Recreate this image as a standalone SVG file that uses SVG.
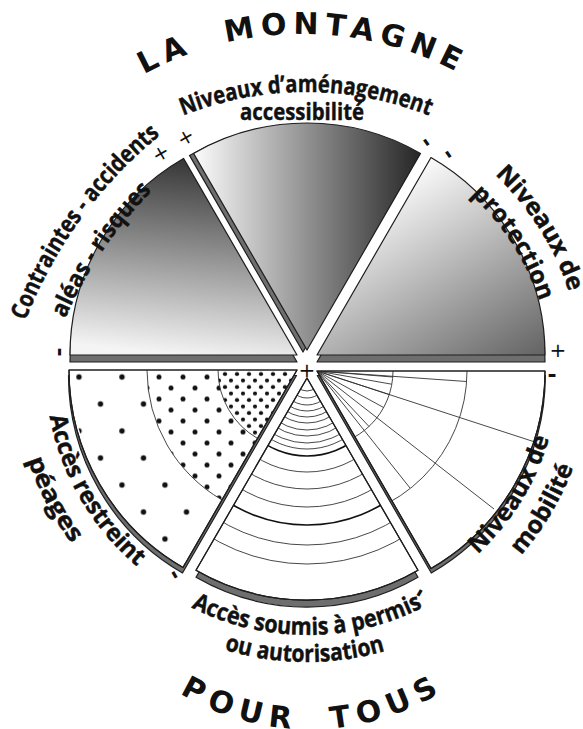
<svg xmlns="http://www.w3.org/2000/svg" width="583" height="729" viewBox="0 0 583 729">
<defs>
<style>
.sec{stroke:#1e1e1e;stroke-width:1.2;stroke-linejoin:round}
.band{fill:#6e6e6e;stroke:#1e1e1e;stroke-width:1.2;stroke-linejoin:round}
.lbl{font-family:"Open Sans","Liberation Sans",sans-serif;font-weight:700;font-size:24px;fill:#111;stroke:#111;stroke-width:0.45}
.ttl{font-family:"DejaVu Sans","Liberation Sans",sans-serif;font-weight:700;font-size:30px;fill:#111}
.sgn{font-family:"DejaVu Sans","Liberation Sans",sans-serif;font-size:20px;fill:#111;text-anchor:middle}
.sgb{font-family:"DejaVu Sans","Liberation Sans",sans-serif;font-weight:700;font-size:22px;fill:#111;text-anchor:middle}
.arc{fill:none;stroke:#333;stroke-width:0.9}
.arcb{fill:none;stroke:#111;stroke-width:1.6}
.ln{stroke:#333;stroke-width:0.9}
</style>
<linearGradient id="gUL" gradientUnits="userSpaceOnUse" x1="200" y1="165" x2="180" y2="355">
<stop offset="0" stop-color="#3a3a3a"/><stop offset="1" stop-color="#f4f4f4"/></linearGradient>
<linearGradient id="gUM" gradientUnits="userSpaceOnUse" x1="200" y1="0" x2="420" y2="0">
<stop offset="0" stop-color="#f6f6f6"/><stop offset="1" stop-color="#262626"/></linearGradient>
<linearGradient id="gUR" gradientUnits="userSpaceOnUse" x1="420" y1="165" x2="545" y2="370">
<stop offset="0" stop-color="#fbfbfb"/><stop offset="1" stop-color="#5a5a5a"/></linearGradient>
<pattern id="dotO" patternUnits="userSpaceOnUse" x="68.25" y="363.5" width="43" height="54">
<circle cx="10.75" cy="13.5" r="2.7" fill="#111"/><circle cx="32.25" cy="40.5" r="2.7" fill="#111"/></pattern>
<pattern id="dotM" patternUnits="userSpaceOnUse" x="153" y="371.5" width="24" height="22">
<circle cx="6" cy="5.5" r="2.5" fill="#111"/><circle cx="18" cy="16.5" r="2.5" fill="#111"/></pattern>
<pattern id="dotI" patternUnits="userSpaceOnUse" x="222" y="370.75" width="12" height="13">
<circle cx="3" cy="3.25" r="2.1" fill="#111"/><circle cx="9" cy="9.75" r="2.1" fill="#111"/></pattern>
<path id="sBM" d="M307,378 L196,570.3 A222,222 0 0 0 418,570.3 Z"/>
<path id="sBR" d="M317,371 L545,371 A228,228 0 0 1 431,568.5 Z"/>
<clipPath id="cBM"><use href="#sBM"/></clipPath>
<clipPath id="cBR"><use href="#sBR"/></clipPath>
<path id="tTitle" d="M15.8,199.5 A331,331 0 0 1 589.2,199.5"/>
<path id="tPour" d="M93,604.4 A250,250 0 0 0 526,604.4"/>
<path id="tNiv" d="M51.7,210.6 A332,332 0 0 1 560.3,210.6"/>
<path id="tCon" d="M-1.5,434.5 A444,444 0 0 1 260.1,73.9"/>
<path id="tAle" d="M33.1,450.1 A408,408 0 0 1 262.5,112.7"/>
<path id="tNp1" d="M431.5,129.4 A283,283 0 0 1 582.8,368.6"/>
<path id="tNp2" d="M415.7,155.9 A252,252 0 0 1 551.7,367.7"/>
<path id="tAr1" d="M45,368.9 A260,260 0 0 0 175.8,593.7"/>
<path id="tAr2" d="M13.3,355.8 A292,292 0 0 0 148.6,614.6"/>
<path id="tNm1" d="M425.8,591.4 A254,254 0 0 0 558.9,375.1"/>
<path id="tNm2" d="M445.4,617.1 A286,286 0 0 0 591,371"/>
<path id="tAs1" d="M83.6,506 A258,258 0 0 0 530.4,506"/>
<path id="tAs2" d="M60.2,519.5 A285,285 0 0 0 553.8,519.5"/>
</defs>
<rect width="583" height="729" fill="#fff"/>

<g id="title-top"><text class="ttl" text-anchor="middle" letter-spacing="6.3"><textPath href="#tTitle" startOffset="50%">LA <tspan dx="16.7">MONTAGNE</tspan></textPath></text></g>
<g id="title-bottom"><text class="ttl" text-anchor="middle" letter-spacing="7.5"><textPath href="#tPour" startOffset="50.7%">POUR <tspan dx="15">TOUS</tspan></textPath></text></g>

<g id="contraintes">
<path class="band" d="M297,362 L70,362 A227,227 0 0 1 183.5,165.4 Z"/>
<path class="sec" fill="url(#gUL)" d="M297,355 L70,355 A227,227 0 0 1 183.5,158.4 Z"/>
<text class="lbl" text-anchor="middle"><textPath href="#tCon" startOffset="50%" textLength="232" lengthAdjust="spacingAndGlyphs">Contraintes - accidents</textPath></text>
<text class="lbl" text-anchor="middle"><textPath href="#tAle" startOffset="50%" textLength="155" lengthAdjust="spacingAndGlyphs">aléas - risques</textPath></text>
</g>

<g id="amenagement">
<path class="band" d="M303,352 L189.5,155.4 A227,227 0 0 1 416.5,155.4 Z"/>
<path class="sec" fill="url(#gUM)" d="M307,350 L193.5,153.4 A227,227 0 0 1 420.5,153.4 Z"/>
<text class="lbl" text-anchor="middle"><textPath href="#tNiv" startOffset="50%" textLength="252" lengthAdjust="spacingAndGlyphs">Niveaux d’aménagement</textPath></text>
<text class="lbl" x="302" y="120" text-anchor="middle" textLength="124" lengthAdjust="spacingAndGlyphs">accessibilité</text>
</g>

<g id="protection">
<path class="band" d="M317,362 L431,164.5 A228,228 0 0 1 545,362 Z"/>
<path class="sec" fill="url(#gUR)" d="M317,355 L431,157.5 A228,228 0 0 1 545,355 Z"/>
<text class="lbl" text-anchor="middle"><textPath href="#tNp1" startOffset="50%" textLength="140" lengthAdjust="spacingAndGlyphs">Niveaux de</textPath></text>
<text class="lbl" text-anchor="middle"><textPath href="#tNp2" startOffset="50%" textLength="128" lengthAdjust="spacingAndGlyphs">protection</textPath></text>
</g>

<g id="acces-restreint">
<path class="band" d="M296.5,375.5 L68.5,375.5 A228,228 0 0 0 182.5,573 Z"/>
<path class="sec" fill="#fff" d="M297,370 L69,370 A228,228 0 0 0 183,567.5 Z"/>
<path fill="url(#dotI)" d="M297,370 L218,370 A79,79 0 0 0 257.5,438.4 Z"/>
<path fill="url(#dotM)" d="M218,370 L147,370 A150,150 0 0 0 222,499.9 L257.5,438.4 A79,79 0 0 1 218,370 Z"/>
<path fill="url(#dotO)" d="M147,370 L71,370 A226,226 0 0 0 184,565.7 L222,499.9 A150,150 0 0 1 147,370 Z"/>
<path class="arc" d="M218,370 A79,79 0 0 0 257.5,438.4"/>
<path class="arc" d="M147,370 A150,150 0 0 0 222,499.9"/>
<path class="sec" fill="none" d="M297,370 L69,370 A228,228 0 0 0 183,567.5 Z"/>
<text class="lbl" text-anchor="middle"><textPath href="#tAr1" startOffset="50%" textLength="177" lengthAdjust="spacingAndGlyphs">Accès restreint</textPath></text>
<text class="lbl" text-anchor="middle"><textPath href="#tAr2" startOffset="50%" textLength="95" lengthAdjust="spacingAndGlyphs">péages</textPath></text>
</g>

<g id="acces-soumis">
<path class="band" d="M307,385 L196,577.3 A222,222 0 0 0 418,577.3 Z"/>
<use href="#sBM" class="sec" fill="#fff"/>
<g clip-path="url(#cBM)">
<circle class="arc" cx="307" cy="378" r="13"/><circle class="arc" cx="307" cy="378" r="20"/>
<circle class="arc" cx="307" cy="378" r="27"/><circle class="arc" cx="307" cy="378" r="33"/>
<circle class="arc" cx="307" cy="378" r="39"/><circle class="arc" cx="307" cy="378" r="45"/>
<circle class="arc" cx="307" cy="378" r="52"/><circle class="arc" cx="307" cy="378" r="58"/>
<circle class="arc" cx="307" cy="378" r="65"/><circle class="arc" cx="307" cy="378" r="71"/>
<circle class="arcb" cx="307" cy="378" r="78"/>
<circle class="arc" cx="307" cy="378" r="94"/><circle class="arc" cx="307" cy="378" r="111"/>
<circle class="arc" cx="307" cy="378" r="129"/><circle class="arcb" cx="307" cy="378" r="147"/>
<circle class="arc" cx="307" cy="378" r="167"/><circle class="arc" cx="307" cy="378" r="186"/>
</g>
<use href="#sBM" class="sec" fill="none"/>
<text class="lbl" text-anchor="middle"><textPath href="#tAs1" startOffset="50%" textLength="240" lengthAdjust="spacingAndGlyphs">Accès soumis à permis</textPath></text>
<text class="lbl" text-anchor="middle"><textPath href="#tAs2" startOffset="49.6%" textLength="163" lengthAdjust="spacingAndGlyphs">ou autorisation</textPath></text>
</g>

<g id="mobilite">
<path class="band" d="M317.3,375.5 L545.3,375.5 A228,228 0 0 1 431.3,573 Z"/>
<use href="#sBR" class="sec" fill="#fff"/>
<g clip-path="url(#cBR)">
<circle class="arc" cx="317" cy="371" r="76"/><circle class="arc" cx="317" cy="371" r="150"/>
<line class="ln" x1="317" y1="371" x2="466.6" y2="381.5"/>
<line class="ln" x1="317" y1="371" x2="392.8" y2="377"/>
<line class="ln" x1="317" y1="371" x2="391.7" y2="384.2"/>
<line class="ln" x1="317" y1="371" x2="389.2" y2="394.5"/>
<line class="ln" x1="317" y1="371" x2="541" y2="444"/>
<line class="ln" x1="317" y1="371" x2="383.6" y2="407.5"/>
<line class="ln" x1="317" y1="371" x2="494" y2="509"/>
<line class="ln" x1="317" y1="371" x2="369" y2="426.5"/>
<line class="ln" x1="317" y1="371" x2="410" y2="488"/>
</g>
<use href="#sBR" class="sec" fill="none"/>
<text class="lbl" text-anchor="middle"><textPath href="#tNm1" startOffset="50%" textLength="138" lengthAdjust="spacingAndGlyphs">Niveaux de</textPath></text>
<text class="lbl" text-anchor="middle"><textPath href="#tNm2" startOffset="50%" textLength="103" lengthAdjust="spacingAndGlyphs">mobilité</textPath></text>
</g>

<g id="signs">
<text class="sgn" transform="translate(164,159) rotate(-30)">+</text>
<text class="sgn" transform="translate(189,143) rotate(-30)">+</text>
<text class="sgb" transform="translate(421,146) rotate(55)">-</text>
<text class="sgb" transform="translate(443,158) rotate(55)">-</text>
<text class="sgb" transform="translate(53,352) rotate(90)">-</text>
<text class="sgn" x="558" y="357">+</text>
<text class="sgb" x="552" y="382">-</text>
<text class="sgn" x="307" y="377" font-size="17">+</text>
<text class="sgb" transform="translate(169,578) rotate(60)">-</text>
<text class="sgb" transform="translate(425,596) rotate(-60)">-</text>
</g>
</svg>
